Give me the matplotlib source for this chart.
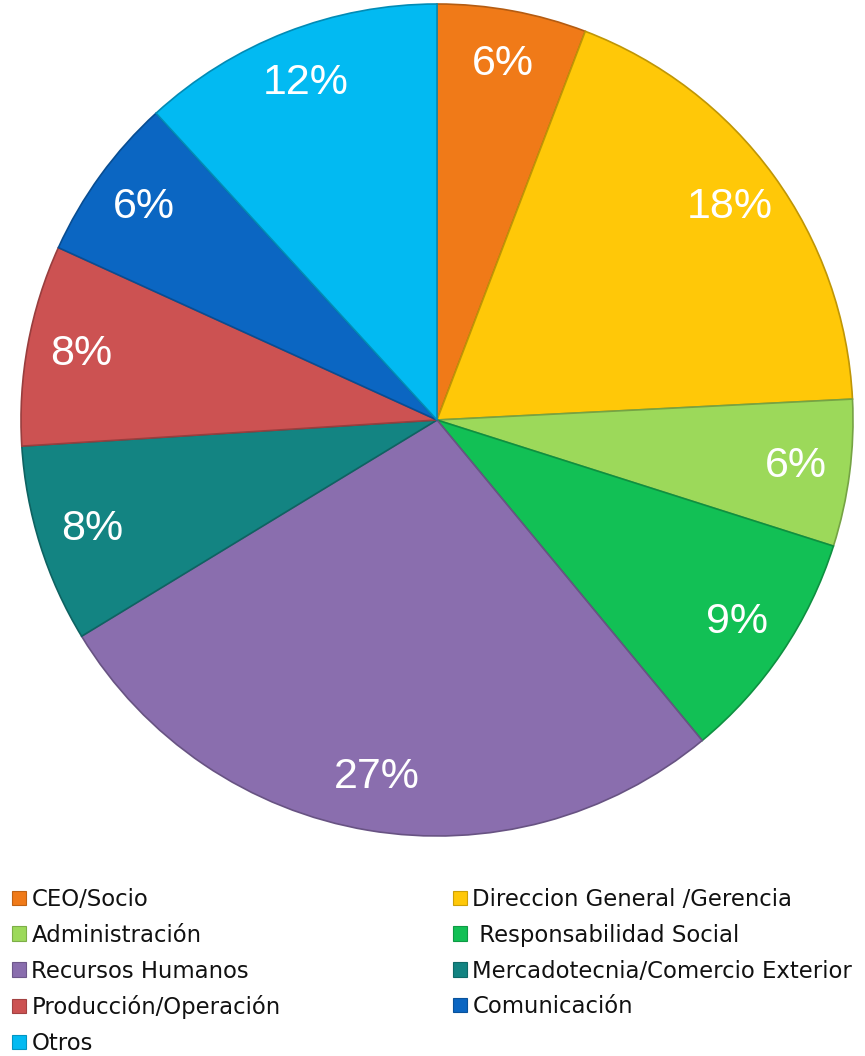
import matplotlib
matplotlib.use("Agg")
import matplotlib.pyplot as plt
import matplotlib.colors as mcolors
from matplotlib.patches import Patch

categories = ["CEO/Socio", "Direccion General /Gerencia", "Administración",
              " Responsabilidad Social", "Recursos Humanos",
              "Mercadotecnia/Comercio Exterior", "Producción/Operación",
              "Comunicación", "Otros"]
values = [5.8, 18.4, 5.7, 9.1, 27.3, 7.7, 7.8, 6.4, 11.8]
colors = ["#F07A18", "#FFC808", "#9CD95A", "#12C055", "#8A6EAE",
          "#138482", "#CC5252", "#0B66C2", "#02BAF2"]

def darker(c, f=0.7):
    r, g, b = mcolors.to_rgb(c)
    return (r * f, g * f, b * f)

W, H = 865, 1056
fig = plt.figure(figsize=(W / 100, H / 100), dpi=100)
fig.patch.set_facecolor("white")

cx, cy, R = 437, 420, 416
ax = fig.add_axes([(cx - R) / W, (H - cy - R) / H, 2 * R / W, 2 * R / H])
wedges, texts, autotexts = ax.pie(
    values, colors=colors, startangle=90, counterclock=False,
    autopct="%.0f%%", pctdistance=0.87,
    wedgeprops=dict(linewidth=1.2),
    textprops=dict(color="white", fontsize=31))
for t in autotexts:
    t.set_fontfamily("Liberation Sans")
for w, c in zip(wedges, colors):
    w.set_edgecolor(darker(c, 0.75))
ax.set_aspect("equal")
ax.set_xlim(-1, 1)
ax.set_ylim(-1, 1)
ax.axis("off")

handles = [Patch(facecolor=c, edgecolor=darker(c, 0.8), linewidth=0.8) for c in colors]
left_idx = [0, 2, 4, 6, 8]
right_idx = [1, 3, 5, 7]
common = dict(frameon=False, loc="upper left", borderpad=0, borderaxespad=0,
              handlelength=0.6, handleheight=0.6, handletextpad=0.25,
              labelspacing=0.56,
              prop=dict(family="DejaVu Sans", size=16.4))
leg1 = fig.legend([handles[i] for i in left_idx], [categories[i] for i in left_idx],
                  bbox_to_anchor=(12 / W, 1 - 888 / H), **common)
leg2 = fig.legend([handles[i] for i in right_idx], [categories[i] for i in right_idx],
                  bbox_to_anchor=(453 / W, 1 - 888 / H), **common)
for leg in (leg1, leg2):
    for t in leg.get_texts():
        t.set_color("#111111")

fig.savefig("out.png", dpi=100, facecolor="white")
